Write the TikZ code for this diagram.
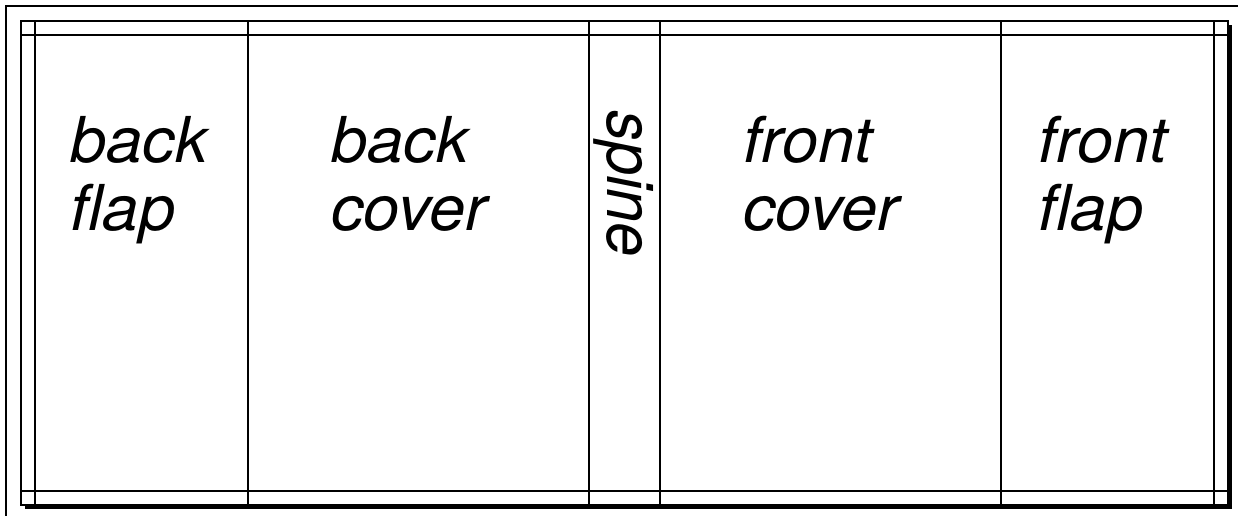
\documentclass[tikz,border=0pt]{standalone}
\usepackage{fontspec}
\setmainfont{TeX Gyre Heros}
\tikzset{
  panel/.style={font=\fontsize{36}{38.5}\selectfont\itshape, align=left,
    inner sep=0pt, anchor=north west, xscale=1.03},
  rule/.style={black, line width=0.9pt},
}
\begin{document}
\begin{tikzpicture}[x=0.02cm,y=-0.02cm]
  \useasboundingbox (0,0) rectangle (1238,516);
  % page edge
  \draw[rule] (6,516) -- (6,6) -- (1238,6);

  % jacket with its shadow
  \fill[black] (25,25) rectangle (1232,509);
  \filldraw[rule,fill=white] (21,21) rectangle (1228,505);

  % trim lines
  \draw[rule] (21,35) -- (1228,35);
  \draw[rule] (21,491) -- (1228,491);
  \draw[rule] (35,21) -- (35,505);
  \draw[rule] (1214,21) -- (1214,505);

  % folds
  \foreach \x in {248,589,660,1001} {
    \draw[rule] (\x,21) -- (\x,505);
  }

  \node[panel] (backflap) at (70,116) {back\\flap};
  \node[panel] (backcover) at (331,116) {back\\cover};
  \node[panel,rotate=-90,anchor=base west,xscale=1/1.03] (spine) at (607,110) {spine};
  \node[panel] (frontcover) at (743,116) {front\\cover};
  \node[panel] (frontflap) at (1038,116) {front\\flap};
\end{tikzpicture}
\end{document}
